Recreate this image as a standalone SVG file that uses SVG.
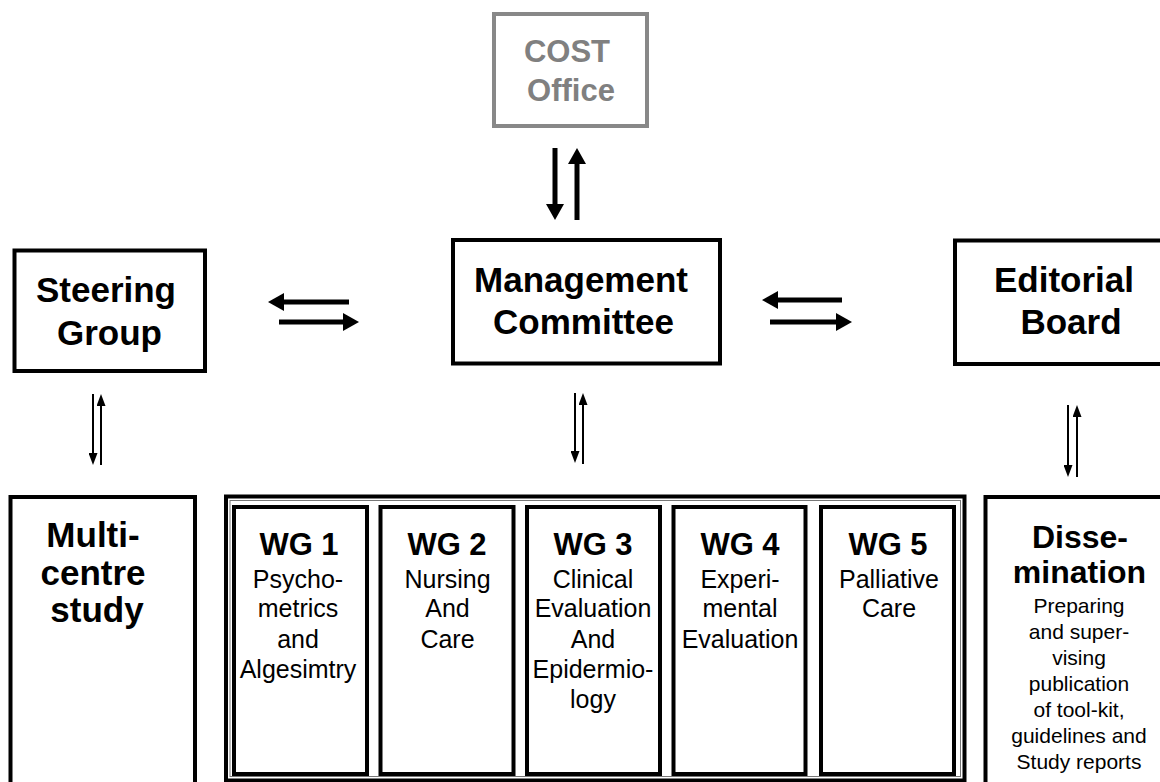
<svg xmlns="http://www.w3.org/2000/svg" width="1160" height="782" viewBox="0 0 1160 782">
<defs>
<style>
.box{fill:#fff;stroke:#000;stroke-width:4}
.gbox{fill:#fff;stroke:#888;stroke-width:4}
.thin{fill:none;stroke:#777;stroke-width:1}
.t{font-family:"Liberation Sans",Arial,sans-serif;text-anchor:middle;fill:#000}
.h{font-weight:bold;font-size:35px}
.g{font-weight:bold;font-size:31px;fill:#808080}
.wg{font-weight:bold;font-size:31px}
.b{font-size:25px}
.s{font-size:21px}
.dh{font-weight:bold;font-size:32px}
.big{stroke:#000;stroke-width:5;fill:none}
.sm{stroke:#000;stroke-width:2;fill:none}
</style>
<marker id="ab" markerUnits="userSpaceOnUse" markerWidth="16" markerHeight="18" refX="4" refY="9" orient="auto"><path d="M0,0 L16,9 L0,18 Z" fill="#000"/></marker>
<marker id="as" markerUnits="userSpaceOnUse" markerWidth="12" markerHeight="9" refX="3" refY="4.5" orient="auto"><path d="M0,0 L12,4.5 L0,9 Z" fill="#000"/></marker>
</defs>
<rect width="1160" height="782" fill="#fff"/>

<g id="cost">
<rect class="gbox" x="494" y="14" width="153" height="112"/>
<text class="t g" x="567" y="62">COST</text>
<text class="t g" x="571" y="101">Office</text>
</g>

<g id="steering">
<rect class="box" x="14.5" y="250.5" width="190.5" height="120.5"/>
<text class="t h" x="106" y="302">Steering</text>
<text class="t h" x="109.5" y="345">Group</text>
</g>

<g id="management">
<rect class="box" x="453" y="240" width="267" height="123.5"/>
<text class="t h" x="581" y="292">Management</text>
<text class="t h" x="583.5" y="334">Committee</text>
</g>

<g id="editorial">
<rect class="box" x="955" y="240.5" width="220" height="123.5"/>
<text class="t h" x="1064" y="292">Editorial</text>
<text class="t h" x="1071" y="334">Board</text>
</g>

<g id="multicentre">
<rect class="box" x="10.5" y="497" width="184.5" height="300"/>
<text class="t h" x="93" y="547">Multi-</text>
<text class="t h" x="93" y="585">centre</text>
<text class="t h" x="97" y="622">study</text>
</g>

<g id="wg-container">
<rect class="box" x="226" y="496.5" width="738.5" height="284"/>
<rect class="thin" x="230" y="500.5" width="730.5" height="276"/>
</g>

<g id="wg1">
<rect class="box" x="234" y="507" width="133" height="267"/>
<text class="t wg" x="299" y="555">WG 1</text>
<text class="t b" x="298" y="588">Psycho-</text>
<text class="t b" x="298" y="617">metrics</text>
<text class="t b" x="298" y="648">and</text>
<text class="t b" x="298" y="678">Algesimtry</text>
</g>

<g id="wg2">
<rect class="box" x="380.5" y="507" width="133" height="267"/>
<text class="t wg" x="447" y="555">WG 2</text>
<text class="t b" x="447.5" y="588">Nursing</text>
<text class="t b" x="447.5" y="617">And</text>
<text class="t b" x="447.5" y="648">Care</text>
</g>

<g id="wg3">
<rect class="box" x="527" y="507" width="133" height="267"/>
<text class="t wg" x="593" y="555">WG 3</text>
<text class="t b" x="593" y="588">Clinical</text>
<text class="t b" x="593" y="617">Evaluation</text>
<text class="t b" x="593" y="648">And</text>
<text class="t b" x="593" y="678">Epidermio-</text>
<text class="t b" x="593" y="708">logy</text>
</g>

<g id="wg4">
<rect class="box" x="673.5" y="507" width="132" height="267"/>
<text class="t wg" x="740" y="555">WG 4</text>
<text class="t b" x="740" y="588">Experi-</text>
<text class="t b" x="740" y="617">mental</text>
<text class="t b" x="740" y="648">Evaluation</text>
</g>

<g id="wg5">
<rect class="box" x="821" y="507" width="133" height="267"/>
<text class="t wg" x="888" y="555">WG 5</text>
<text class="t b" x="889" y="588">Palliative</text>
<text class="t b" x="889" y="617">Care</text>
</g>

<g id="dissemination">
<rect class="box" x="985.5" y="497" width="200" height="300"/>
<text class="t dh" x="1080" y="548">Disse-</text>
<text class="t dh" x="1079.5" y="583">mination</text>
<text class="t s" x="1079" y="613">Preparing</text>
<text class="t s" x="1079" y="639">and super-</text>
<text class="t s" x="1079" y="665">vising</text>
<text class="t s" x="1079" y="691">publication</text>
<text class="t s" x="1079" y="717">of tool-kit,</text>
<text class="t s" x="1079" y="743">guidelines and</text>
<text class="t s" x="1079" y="769">Study reports</text>
</g>

<g id="connectors">
<line class="big" x1="555" y1="148" x2="555" y2="208" marker-end="url(#ab)"/>
<line class="big" x1="577" y1="220" x2="577" y2="160" marker-end="url(#ab)"/>
<line class="big" x1="349" y1="302" x2="280" y2="302" marker-end="url(#ab)"/>
<line class="big" x1="279" y1="322" x2="347" y2="322" marker-end="url(#ab)"/>
<line class="big" x1="842" y1="300" x2="774" y2="300" marker-end="url(#ab)"/>
<line class="big" x1="770" y1="322" x2="840" y2="322" marker-end="url(#ab)"/>
<line class="sm" x1="93" y1="394" x2="93" y2="456" marker-end="url(#as)"/>
<line class="sm" x1="101" y1="465" x2="101" y2="403" marker-end="url(#as)"/>
<line class="sm" x1="575" y1="393" x2="575" y2="454" marker-end="url(#as)"/>
<line class="sm" x1="583" y1="464" x2="583" y2="402" marker-end="url(#as)"/>
<line class="sm" x1="1068" y1="405" x2="1068" y2="468" marker-end="url(#as)"/>
<line class="sm" x1="1077" y1="477" x2="1077" y2="414" marker-end="url(#as)"/>
</g>
</svg>
